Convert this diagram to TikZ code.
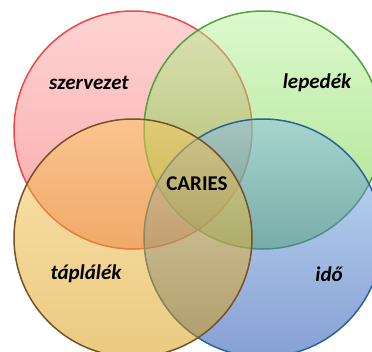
\documentclass[tikz,border=0pt]{standalone}
\usepackage{fontspec}
\setmainfont{Carlito}

\definecolor{szervTop}{RGB}{255,169,169}
\definecolor{szervBot}{RGB}{245,80,80}
\definecolor{szervLine}{RGB}{240,70,70}
\definecolor{lepTop}{RGB}{185,245,155}
\definecolor{lepBot}{RGB}{90,195,30}
\definecolor{lepLine}{RGB}{80,160,60}
\definecolor{idoTop}{RGB}{135,189,235}
\definecolor{idoBot}{RGB}{15,65,170}
\definecolor{idoLine}{RGB}{40,100,150}
\definecolor{tapTop}{RGB}{249,201,95}
\definecolor{tapBot}{RGB}{215,150,0}
\definecolor{tapLine}{RGB}{120,80,40}

\begin{document}
\begin{tikzpicture}[x=1pt, y=-1pt, every node/.style={font=\fontsize{21}{24}\selectfont\bfseries}]
  \useasboundingbox (0,0) rectangle (372,351);
  \clip (0,0) rectangle (372,351);
  \foreach \cx/\cy/\c in {133/130/szerv, 263/130/lep, 263/238/ido, 133/238/tap} {
    \path[top color=\c Top, bottom color=\c Bot, fill opacity=0.5, draw=\c Line, line width=1.5pt] (\cx,\cy) circle[radius=119];
  }
  \node[font=\fontsize{21}{24}\selectfont\bfseries\itshape] (szervezet) at (89,83) {szervezet};
  \node[font=\fontsize{21}{24}\selectfont\bfseries\itshape] (lepedek) at (317,83) {lepedék};
  \node[font=\fontsize{21}{24}\selectfont\bfseries\itshape] (taplalek) at (86,274) {táplálék};
  \node[font=\fontsize{21}{24}\selectfont\bfseries\itshape] (ido) at (329,274) {idő};
  \node (caries) at (197,184) {CARIES};
\end{tikzpicture}
\end{document}
